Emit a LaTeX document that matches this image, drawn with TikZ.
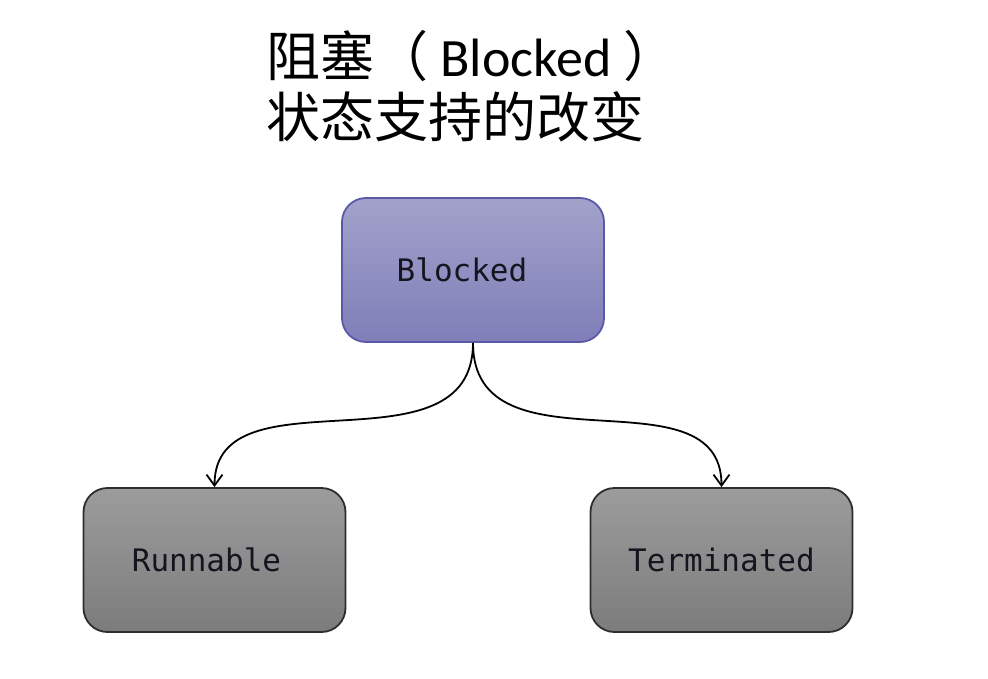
\documentclass[tikz,border=0pt]{standalone}
\usepackage{fontspec}
\usetikzlibrary{arrows.meta}
\newfontfamily\cjk{Noto Sans CJK SC}
\newfontfamily\carlito{Carlito}
\newfontfamily\boxfont{DejaVu Sans Mono}
\definecolor{bltop}{HTML}{A3A2CB}
\definecolor{blbot}{HTML}{7F7EB8}
\definecolor{blborder}{HTML}{5A59A8}
\definecolor{grtop}{HTML}{9C9C9C}
\definecolor{grbot}{HTML}{7C7C7C}
\definecolor{grborder}{HTML}{2E2E2E}
\definecolor{boxtext}{HTML}{15151F}
\tikzset{
  statebox/.style={rounded corners=24pt, minimum width=262pt, minimum height=144pt,
    line width=1.8pt, inner sep=0pt, font=\fontsize{31}{36}\boxfont, text=boxtext},
  blockedbox/.style={statebox, draw=blborder, top color=bltop, bottom color=blbot},
  graybox/.style={statebox, draw=grborder, top color=grtop, bottom color=grbot},
  flow/.style={line width=1.8pt, -{Straight Barb[length=11pt,width=16pt,line width=1.8pt]}},
  titlefont/.style={font=\fontsize{54}{61}\cjk, inner sep=0pt, anchor=base west}
}
\begin{document}
\begin{tikzpicture}[x=1pt,y=-1pt]
\useasboundingbox (0,0) rectangle (988,678);
\fill[white] (0,0) rectangle (988,678);
\node[titlefont] (t1) at (266,76) {阻塞（{\carlito\ Blocked} ）};
\node[titlefont] (t2) at (266,137) {状态支持的改变};
\node[blockedbox] (b) at (473,270) {Blocked\hspace*{22pt}};
\node[graybox] (r) at (214.5,560) {Runnable\hspace*{16pt}};
\node[graybox] (t) at (721.5,560) {Terminated};
\draw[flow] (b.south) .. controls ([yshift=-135pt]b.south) and ([yshift=120pt]r.north) .. (r.north);
\draw[flow] (b.south) .. controls ([yshift=-135pt]b.south) and ([yshift=120pt]t.north) .. (t.north);
\end{tikzpicture}
\end{document}
